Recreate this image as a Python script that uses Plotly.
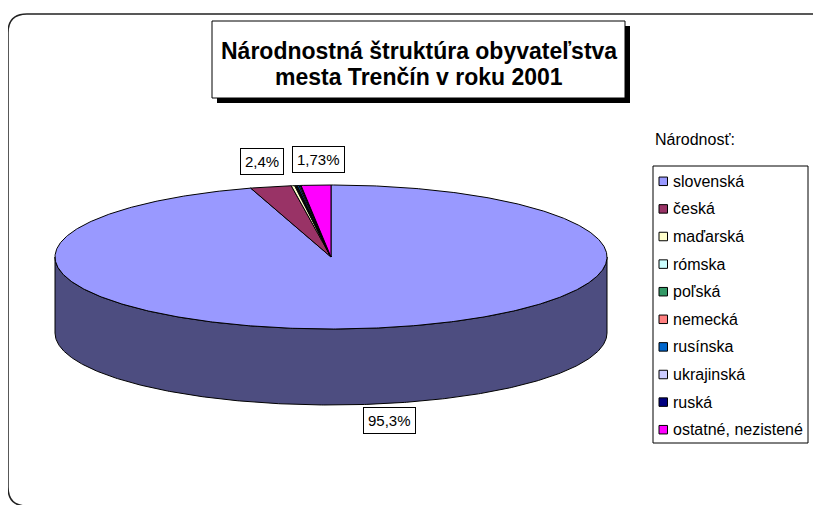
import math
import plotly.graph_objects as go

# ---- data ----
categories = ["slovenská", "česká", "maďarská", "rómska", "poľská",
              "nemecká", "rusínska", "ukrajinská", "ruská", "ostatné, nezistené"]
shares = [95.3, 2.4, 0.2, 0.05, 0.05, 0.05, 0.1, 0.07, 0.05, 1.73]
colors = ["#9999FF", "#993366", "#FFFFCC", "#CCFFFF", "#339966",
          "#FF8080", "#0066CC", "#CCCCFF", "#000080", "#FF00FF"]
labeled = ["slovenská", "česká", "ostatné, nezistené"]
title_lines = ["Národnostná štruktúra obyvateľstva", "mesta Trenčín v roku 2001"]
legend_title = "Národnosť:"

# ---- geometry (page pixel space; page body has an 8px margin) ----
W, H = 821, 505
OFF = 8
cx, cy = 331, 257      # centre of top ellipse
ra, rb = 276, 72       # ellipse semi-axes
depth = 76             # pie thickness
side_color = "#4D4D80"
FONT = "Arial, Liberation Sans, sans-serif"


def pt(theta_deg, dy=0.0):
    t = math.radians(theta_deg)
    return cx + ra * math.sin(t), cy - rb * math.cos(t) + dy


def arc(a0, a1, dy=0.0, n=None):
    if n is None:
        n = max(2, int(abs(a1 - a0) * 2) + 2)
    xs, ys = [], []
    for i in range(n + 1):
        x, y = pt(a0 + (a1 - a0) * i / n, dy)
        xs.append(x)
        ys.append(y)
    return xs, ys


fig = go.Figure()

# front side wall (visible half of the cylinder)
tx, ty = arc(90, 270)
bx, by = arc(270, 90, dy=depth)
fig.add_trace(go.Scatter(
    x=tx + bx + [tx[0]], y=ty + by + [ty[0]], mode="lines",
    fill="toself", fillcolor=side_color, line=dict(color="black", width=1),
    hoverinfo="skip", showlegend=False))

# top face slices, clockwise from 12 o'clock
total = sum(shares)
start = 0.0
for name, v, c in zip(categories, shares, colors):
    sweep = 360.0 * v / total
    ax, ay = arc(start, start + sweep)
    fig.add_trace(go.Scatter(
        x=[cx] + ax + [cx], y=[cy] + ay + [cy], mode="lines",
        fill="toself", fillcolor=c, line=dict(color="black", width=1),
        name=name, text=f"{name}: {v}%", hoverinfo="text", showlegend=False))
    start += sweep

fig.update_xaxes(range=[OFF, W + OFF], visible=False, fixedrange=True)
fig.update_yaxes(range=[H + OFF, OFF], visible=False, fixedrange=True)

shapes = []
annotations = []

# outer rounded border
shapes.append(dict(type="path", xref="x", yref="y",
                   path="M 8,33 Q 8,14 27,14 L 812,14 Q 831,14 831,33 L 831,487 "
                        "Q 831,506 812,506 L 27,506 Q 8,506 8,487 Z",
                   line=dict(color="#222222", width=1.5), fillcolor="rgba(0,0,0,0)"))

# title box with shadow
shapes.append(dict(type="rect", xref="x", yref="y", x0=217, x1=630, y0=26, y1=103,
                   line=dict(width=0), fillcolor="black"))
shapes.append(dict(type="rect", xref="x", yref="y", x0=212, x1=625, y0=21, y1=98,
                   line=dict(color="black", width=1), fillcolor="white"))
for i, line in enumerate(title_lines):
    annotations.append(dict(x=418.5, y=51 + 26 * i, xref="x", yref="y", text=f"<b>{line}</b>",
                            showarrow=False, font=dict(family=FONT, size=23, color="black"),
                            xanchor="center", yanchor="middle"))

# data labels
label_pos = {"slovenská": (389.5, 420), "česká": (262, 161), "ostatné, nezistené": (318.5, 159.5)}
for name in labeled:
    v = shares[categories.index(name)]
    lx, ly = label_pos[name]
    annotations.append(dict(x=lx, y=ly, xref="x", yref="y",
                            text=f"{v:g}".replace(".", ",") + "%",
                            showarrow=False, font=dict(family=FONT, size=15, color="black"),
                            bgcolor="white", bordercolor="black", borderwidth=1, borderpad=4,
                            xanchor="center", yanchor="middle"))

# legend (manual, Excel-like)
annotations.append(dict(x=653, y=139, xref="x", yref="y", text=legend_title, showarrow=False,
                        font=dict(family=FONT, size=16, color="black"),
                        xanchor="left", yanchor="middle"))
shapes.append(dict(type="rect", xref="x", yref="y", x0=653, x1=808, y0=166, y1=443,
                   line=dict(color="black", width=1), fillcolor="white"))
for i, (name, c) in enumerate(zip(categories, colors)):
    yc = 181.3 + 27.6 * i
    shapes.append(dict(type="rect", xref="x", yref="y", x0=659, x1=667.5,
                       y0=yc - 4.25, y1=yc + 4.25,
                       line=dict(color="black", width=1), fillcolor=c))
    annotations.append(dict(x=671, y=yc, xref="x", yref="y", text=name, showarrow=False,
                            font=dict(family=FONT, size=16, color="black"),
                            xanchor="left", yanchor="middle"))

fig.update_layout(
    width=W, height=H, autosize=False,
    margin=dict(l=0, r=0, t=0, b=0),
    paper_bgcolor="white", plot_bgcolor="white",
    shapes=shapes, annotations=annotations,
    showlegend=False,
)

fig.write_html("out.html")
